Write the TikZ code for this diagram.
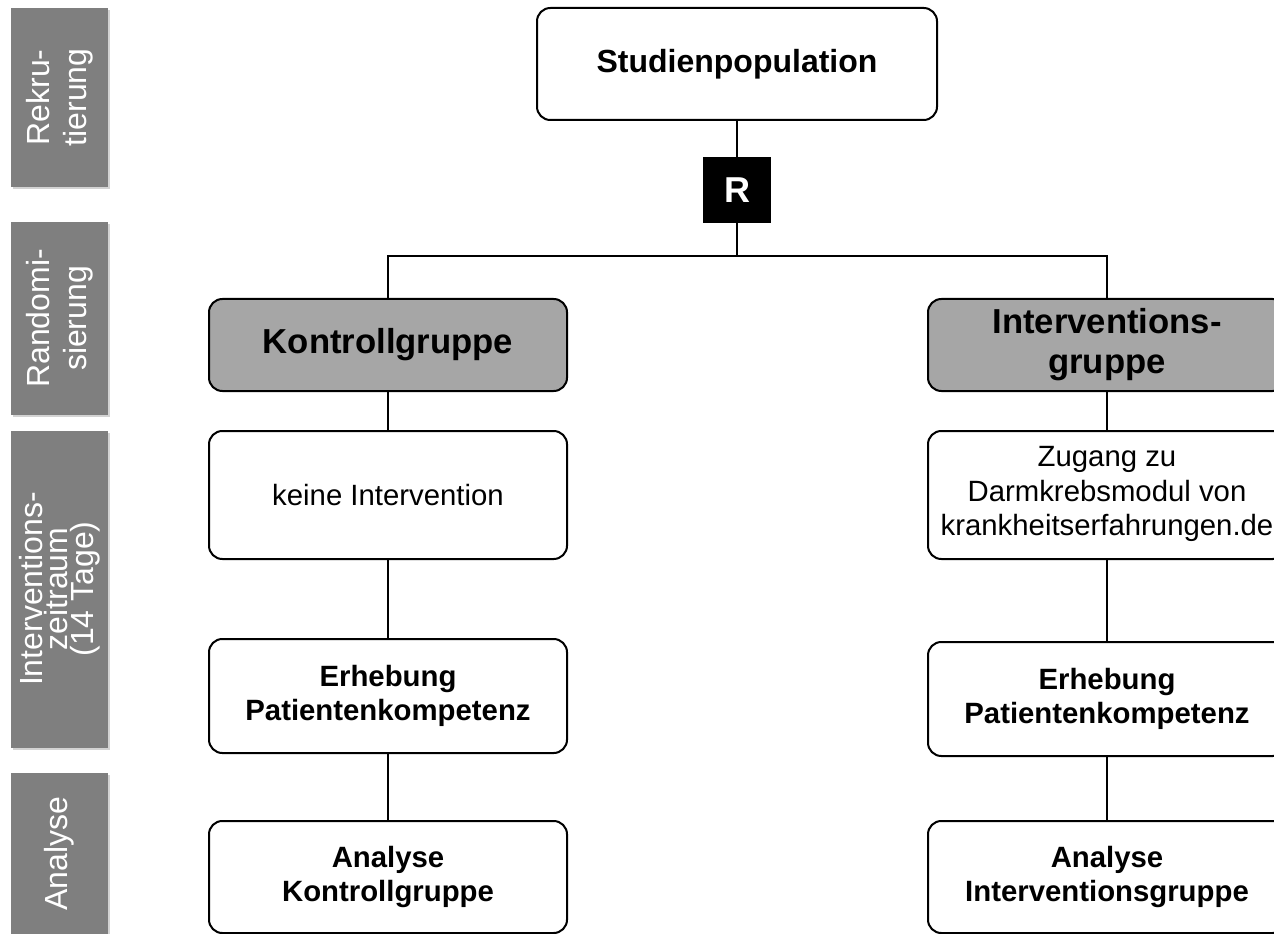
\documentclass[tikz,border=0pt]{standalone}
\usepackage{fontspec}
\setmainfont{Liberation Sans}
\usetikzlibrary{shadows}
\definecolor{bargray}{HTML}{7F7F7F}
\definecolor{headgray}{HTML}{A6A6A6}
\begin{document}
\begin{tikzpicture}[x=0.75pt,y=-0.75pt,
	box/.style={draw,line width=1.5pt,rounded corners=10pt,fill=white,align=center,
		inner sep=0pt,minimum width=268.5pt,font=\fontsize{22}{26}\selectfont},
	head/.style={box,fill=headgray,minimum height=69pt,font=\fontsize{26}{30}\bfseries\selectfont},
	bar/.style={fill=bargray,text=white,rotate=90,align=center,inner sep=0pt,
		minimum height=72.75pt,font=\fontsize{24}{28}\selectfont,
		drop shadow={shadow xshift=1.5pt,shadow yshift=-1.5pt,opacity=0.35}},
	link/.style={line width=2pt}]
\useasboundingbox (0,0) rectangle (1274,934);
\clip (0,0) rectangle (1274,934);

% phases
\node[bar,minimum width=134.25pt] (rekr) at (59.5,97.5) {Rekru-\\tierung};
\node[bar,minimum width=144.75pt] (rand) at (59.5,318.5) {Randomi-\\sierung};
\node[bar,minimum width=237.75pt,font=\fontsize{24}{19}\selectfont] (zeit) at (59.5,589)
	{Interventions-\\zeitraum\\(14 Tage)};
\node[bar,minimum width=120.75pt] (anal) at (59.5,853.5) {Analyse};

% top
\node[box,minimum width=300pt,minimum height=84pt,font=\fontsize{24}{28}\bfseries\selectfont]
	(pop) at (737,64) {Studienpopulation};
\node[fill=black,text=white,minimum width=51pt,minimum height=49.5pt,inner sep=0pt,
	font=\fontsize{27}{30}\bfseries\selectfont] (R) at (737,190) {R};
\coordinate (split) at (737,256);

% groups
\node[head] (kg) at (388,345) {Kontrollgruppe};
\node[head] (ig) at (1107,345) {Interventions-\\gruppe};

\node[box,minimum height=96pt] (keine) at (388,495) {keine Intervention};
\node[box,minimum height=96pt,text depth=6pt] (zugang) at (1107,495)
	{Zugang zu\\Darmkrebsmodul von\\krankheitserfahrungen.de};

\node[box,minimum height=85.5pt,font=\fontsize{22}{25}\bfseries\selectfont] (erhK) at (388,696)
	{Erhebung\\Patientenkompetenz};
\node[box,minimum height=85.5pt,font=\fontsize{22}{25}\bfseries\selectfont] (erhI) at (1107,699)
	{Erhebung\\Patientenkompetenz};

\node[box,minimum height=84pt,font=\fontsize{22}{26}\bfseries\selectfont] (anaK) at (388,877)
	{Analyse\\Kontrollgruppe};
\node[box,minimum height=84pt,font=\fontsize{22}{26}\bfseries\selectfont] (anaI) at (1107,877)
	{Analyse\\Interventionsgruppe};

% lines
\draw[link] (pop) -- (R);
\draw[link] (R) -- (split);
\draw[link] (kg.north) |- (split) -| (ig.north);
\draw[link] (kg) -- (keine);
\draw[link] (keine) -- (erhK);
\draw[link] (erhK) -- (anaK);
\draw[link] (ig) -- (zugang);
\draw[link] (zugang) -- (erhI);
\draw[link] (erhI) -- (anaI);
\end{tikzpicture}
\end{document}
